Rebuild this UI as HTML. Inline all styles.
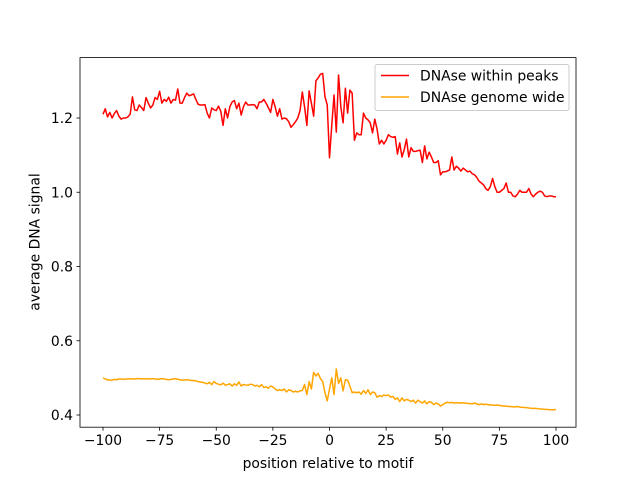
<!DOCTYPE html>
<html><head><meta charset="utf-8"><style>
body{margin:0;background:#fff}
svg{display:block;font-family:"DejaVu Sans","Liberation Sans",sans-serif}
</style></head><body>
<svg id="chart" width="640" height="480" viewBox="0 0 640 480">
<rect x="0" y="0" width="640" height="480" fill="#fff"/>
<g id="marks"></g>
<rect x="80" y="57.6" width="496" height="369.6" fill="none" stroke="#000" stroke-width="0.8"/>
<g id="xticks"></g><g id="yticks"></g>
<text x="328" y="468" font-size="13.9" text-anchor="middle">position relative to motif</text>
<text transform="translate(39.5,242) rotate(-90)" font-size="13.9" text-anchor="middle">average DNA signal</text>
<g>
<rect x="375" y="64.5" width="194" height="46" rx="2" fill="#fff" fill-opacity="0.8" stroke="#ccc" stroke-width="1"/>
<line x1="381" y1="75.5" x2="409" y2="75.5" stroke="#ff0000" stroke-width="1.5"/>
<text x="420" y="80.5" font-size="13.9">DNAse within peaks</text>
<line x1="381" y1="97" x2="409" y2="97" stroke="#ffa500" stroke-width="1.5"/>
<text x="420" y="102" font-size="13.9">DNAse genome wide</text>
</g>
</svg>
<script>
const xTicks=[-100,-75,-50,-25,0,25,50,75,100];
const yTicks=[0.4,0.6,0.8,1.0,1.2];
const yTickLabels=["0.4","0.6","0.8","1.0","1.2"];
const positions=[];for(let i=-100;i<=100;i++)positions.push(i);
const peaks=[1.210,1.225,1.203,1.215,1.200,1.212,1.220,1.205,1.197,1.200,
1.200,1.203,1.210,1.257,1.222,1.220,1.235,1.228,1.220,1.255,
1.240,1.227,1.235,1.255,1.250,1.272,1.240,1.250,1.245,1.256,
1.240,1.250,1.248,1.278,1.240,1.240,1.255,1.267,1.260,1.262,
1.265,1.250,1.237,1.235,1.235,1.236,1.213,1.200,1.227,1.222,
1.220,1.232,1.218,1.180,1.225,1.200,1.230,1.243,1.247,1.225,
1.240,1.208,1.230,1.243,1.235,1.235,1.236,1.235,1.225,1.243,
1.243,1.250,1.240,1.228,1.215,1.250,1.230,1.205,1.225,1.197,
1.200,1.198,1.190,1.175,1.182,1.190,1.200,1.220,1.270,1.230,
1.180,1.273,1.240,1.205,1.300,1.308,1.318,1.320,1.257,1.235,
1.093,1.180,1.262,1.162,1.316,1.230,1.187,1.280,1.213,1.275,
1.267,1.140,1.160,1.155,1.155,1.213,1.200,1.195,1.187,1.160,
1.197,1.170,1.130,1.140,1.130,1.140,1.155,1.150,1.148,1.150,
1.103,1.133,1.095,1.115,1.143,1.095,1.120,1.110,1.110,1.112,
1.113,1.080,1.125,1.090,1.108,1.095,1.080,1.080,1.085,1.047,
1.055,1.055,1.057,1.060,1.095,1.060,1.070,1.065,1.057,1.065,
1.060,1.055,1.057,1.050,1.047,1.040,1.030,1.025,1.020,1.010,
1.005,1.015,1.037,1.015,1.000,1.000,1.005,1.010,1.025,1.000,
1.000,0.990,0.988,0.995,1.005,1.000,1.000,1.000,1.010,0.995,
0.988,0.995,1.000,1.003,1.000,0.990,0.988,0.990,0.990,0.988,
0.988];
const genome=[.500,.497,.495,.494,.494,.496,.495,.497,.497,.496,
.497,.497,.498,.497,.497,.498,.498,.497,.498,.497,
.498,.497,.498,.497,.496,.497,.498,.497,.496,.495,
.496,.497,.498,.496,.495,.494,.494,.495,.494,.493,
.493,.492,.490,.489,.488,.486,.484,.488,.482,.490,
.485,.483,.481,.486,.480,.482,.484,.478,.484,.480,
.489,.478,.482,.481,.480,.483,.482,.478,.480,.476,
.482,.474,.476,.472,.478,.476,.470,.466,.468,.466,
.470,.462,.468,.466,.462,.464,.462,.465,.466,.482,
.455,.490,.470,.515,.505,.512,.498,.490,.460,.438,
.470,.500,.455,.524,.485,.500,.465,.495,.494,.478,
.460,.462,.460,.462,.456,.466,.458,.468,.455,.462,
.460,.448,.452,.450,.454,.452,.454,.448,.450,.442,
.446,.436,.446,.438,.442,.440,.436,.440,.432,.440,
.436,.432,.438,.430,.436,.434,.428,.432,.430,.424,
.428,.432,.434,.433,.434,.432,.433,.433,.432,.433,
.432,.431,.431,.430,.432,.430,.428,.430,.428,.429,
.428,.427,.427,.426,.427,.426,.425,.424,.424,.423,
.423,.422,.422,.423,.421,.421,.420,.420,.419,.418,
.418,.418,.417,.416,.416,.415,.415,.414,.414,.414,
.415];
const NS="http://www.w3.org/2000/svg";
function xs(v){return 329.5+v*2.265;}
function ys(v){return 415-(v-0.4)*371.25;}
function mk(tag,attrs,parent){const e=document.createElementNS(NS,tag);for(const k in attrs)e.setAttribute(k,attrs[k]);parent.appendChild(e);return e;}
const marks=document.getElementById('marks');
function drawLine(vals,color,name){
  const d=vals.map((v,i)=>(i?'L':'M')+xs(positions[i]).toFixed(2)+','+ys(v).toFixed(2)).join('');
  const p=mk('path',{d:d,fill:'none',stroke:color,'stroke-width':1.5,'stroke-linejoin':'round'},marks);
  
  
}
drawLine(peaks,'#ff0000','line-dnase-within-peaks');
drawLine(genome,'#ffa500','line-dnase-genome-wide');
const xg=document.getElementById('xticks');
xTicks.forEach(t=>{
  const g=mk('g',{},xg);
  
  
  mk('line',{x1:xs(t),x2:xs(t),y1:427.2,y2:430.7,stroke:'#000','stroke-width':0.8},g);
  const tx=mk('text',{x:xs(t),y:445,'font-size':13.9,'text-anchor':'middle'},g);
  tx.textContent=(t<0?'\u2212'+(-t):String(t));
});
const yg=document.getElementById('yticks');
yTicks.forEach((t,i)=>{
  const g=mk('g',{},yg);
  
  
  mk('line',{x1:76.5,x2:80,y1:ys(t),y2:ys(t),stroke:'#000','stroke-width':0.8},g);
  const tx=mk('text',{x:73,y:ys(t)+5,'font-size':13.9,'text-anchor':'end'},g);
  tx.textContent=yTickLabels[i];
});
</script>
</body></html>
